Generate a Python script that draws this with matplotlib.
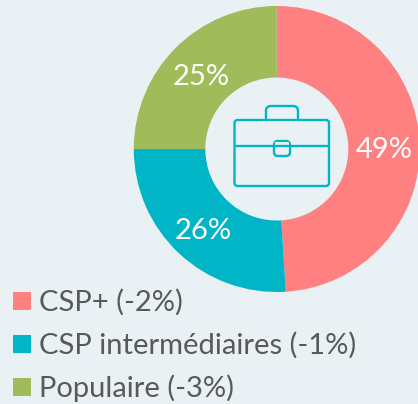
import matplotlib
matplotlib.use("Agg")
import matplotlib.pyplot as plt
from matplotlib.patches import FancyBboxPatch, Rectangle

categories = ["CSP+ (-2%)", "CSP intermédiaires (-1%)", "Populaire (-3%)"]
values = [49, 26, 25]
colors = ["#FF8080", "#00B5C5", "#A0BC5A"]
BG = "#E9F1F4"
TEAL = "#00B5C5"
TXT = "#595959"
W, H = 418, 404

plt.rcParams["font.family"] = ["Lato", "DejaVu Sans"]
fig = plt.figure(figsize=(W / 100, H / 100), dpi=100, facecolor=BG)
ax = fig.add_axes([0, 0, 1, 1])
ax.set_xlim(0, W)
ax.set_ylim(H, 0)
ax.axis("off")

pax = fig.add_axes([0, 0, 1, 1], facecolor="none")
pax.set_xlim(0, W)
pax.set_ylim(0, H)
pax.axis("off")
_, _, autotexts = pax.pie(values, colors=colors, startangle=90, counterclock=False,
        center=(276.8, H - 149), radius=143, frame=False,
        wedgeprops=dict(width=71.5, linewidth=0),
        autopct=lambda p: f"{p:.0f}%", pctdistance=0.75,
        textprops=dict(color="white", fontsize=21))
for t in autotexts:
    x, y = t.get_position()
    t.set_position((x, y - 4))
pax.set_xlim(0, W)
pax.set_ylim(0, H)
pax.set_aspect("auto")

ax.set_zorder(2)
ax.patch.set_alpha(0)
lw = 1.7


def box(x0, y0, x1, y1, r):
    ax.add_patch(FancyBboxPatch((x0 + r, y0 + r), x1 - x0 - 2 * r, y1 - y0 - 2 * r,
                                boxstyle=f"round,pad={r},rounding_size={r}",
                                fc="none", ec=TEAL, lw=lw))


# briefcase icon
box(266, 106, 298, 124, 5)
ax.add_patch(Rectangle((262, 121), 40, 8, fc=BG, ec="none", zorder=1.5))
box(234.5, 120, 329, 186, 3)
ax.plot([234.5, 329], [146, 146], color=TEAL, lw=lw, solid_capstyle="butt")
ax.add_patch(Rectangle((275, 142), 14, 8, fc=BG, ec="none", zorder=1.5))
box(274, 141, 290, 156, 4)

# legend
rows = [301, 344, 387]
for label, color, y in zip(categories, colors, rows):
    ax.add_patch(Rectangle((13, y - 9), 18, 18, fc=color, ec="none"))
    ax.text(39, y + 1, label, color=TXT, fontsize=21, va="center", ha="left")

fig.savefig("out.png", dpi=100, facecolor=BG)
